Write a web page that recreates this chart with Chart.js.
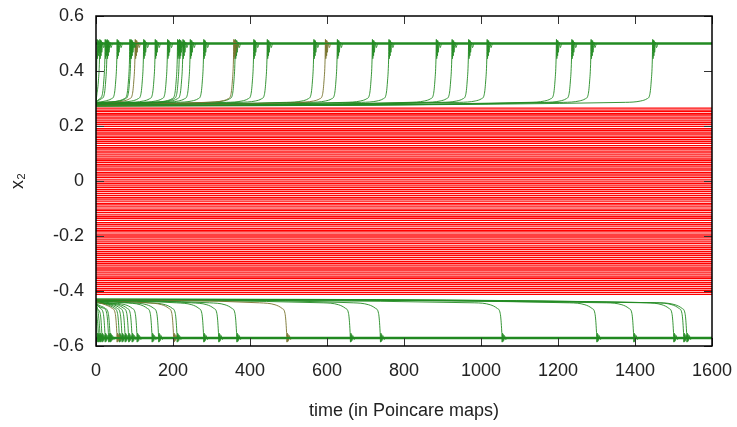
<!DOCTYPE html>
<html>
<head>
<meta charset="utf-8">
<script src="https://cdn.jsdelivr.net/npm/chart.js@4.4.1/dist/chart.umd.min.js"></script>
<style>
  body { margin: 0; background: #fff; }
  #wrap { width: 737px; height: 427px; position: relative; }
</style>
</head>
<body>
<div id="wrap"><canvas id="poincareChart"></canvas></div>
<script>
// red trajectories: constant levels of x2
const redLevels = [0.265, 0.258, 0.252, 0.245, 0.240, 0.232, 0.226, 0.219, 0.212, 0.206,
  0.199, 0.190, 0.184, 0.178, 0.171, 0.163, 0.158, 0.150, 0.143, 0.137, 0.129, 0.121,
  0.116, 0.109, 0.102, 0.095, 0.088, 0.080, 0.074, 0.068, 0.060, 0.054, 0.047, 0.040,
  0.031, 0.025, 0.019, 0.012, 0.004, -0.003, -0.010, -0.018, -0.024, -0.031, -0.038,
  -0.045, -0.052, -0.060, -0.066, -0.073, -0.081, -0.087, -0.094, -0.102, -0.108,
  -0.115, -0.123, -0.130, -0.136, -0.143, -0.151, -0.158, -0.164, -0.172, -0.179,
  -0.185, -0.193, -0.200, -0.207, -0.214, -0.221, -0.228, -0.236, -0.242, -0.249,
  -0.257, -0.263, -0.270, -0.278, -0.285, -0.292, -0.299, -0.306, -0.313, -0.320,
  -0.327, -0.334, -0.341, -0.349, -0.355, -0.362, -0.370, -0.377, -0.384, -0.391,
  -0.398, -0.405, -0.412];

// green trajectories: time at which each one escapes, and its starting x2
const upJumps = [2, 9, 23, 28, 54, 87, 90, 101, 123, 153, 185, 211, 216, 225, 244, 279,
  357, 361, 409, 444, 565, 595, 626, 717, 760, 883, 924, 967, 1015, 1195, 1235, 1285, 1445];
const upStarts = [0.290, 0.288, 0.286, 0.289, 0.284, 0.287, 0.283, 0.285, 0.282, 0.286,
  0.281, 0.284, 0.280, 0.283, 0.279, 0.282, 0.280, 0.278, 0.281, 0.277, 0.279, 0.276,
  0.278, 0.275, 0.277, 0.274, 0.276, 0.273, 0.275, 0.274, 0.272, 0.273, 0.274];
const downJumps = [2, 6, 10, 15, 23, 32, 36, 54, 60, 67, 75, 84, 93, 106, 145, 162, 201,
  210, 279, 318, 365, 495, 660, 738, 1054, 1300, 1396, 1500, 1526, 1534];
const downStarts = [-0.445, -0.443, -0.444, -0.441, -0.442, -0.440, -0.442, -0.439, -0.441,
  -0.438, -0.440, -0.437, -0.439, -0.436, -0.438, -0.435, -0.437, -0.434, -0.436, -0.433,
  -0.435, -0.432, -0.434, -0.431, -0.433, -0.430, -0.432, -0.431, -0.429, -0.430];

// shape of an escape (time offset from jump, x2)
const upOffsets = [-70, -30, -14, -7, -3, 0, 1, 2, 3, 4, 5, 6, 8, 11, 15];
const upValues = [0.286, 0.291, 0.299, 0.312, 0.360, 0.440, 0.515, 0.445, 0.512, 0.455,
  0.510, 0.468, 0.505, 0.485, 0.500];
const upEnd = 0.500;

const downOffsets = [-70, -30, -12, -4, 0, 1, 2, 3, 4, 5, 7, 10, 15];
const downValues = [-0.443, -0.450, -0.463, -0.482, -0.550, -0.586, -0.553, -0.584,
  -0.558, -0.580, -0.562, -0.576, -0.571];
const downEnd = -0.571;

const tMax = 1600;
const xTicks = [0, 200, 400, 600, 800, 1000, 1200, 1400, 1600];
const yTicks = [-0.6, -0.4, -0.2, 0, 0.2, 0.4, 0.6];

const olive = [7, 16, 21];
const green = 'rgba(34,139,34,0.9)';
const oliveColor = 'rgba(120,115,45,0.9)';

function escapeCurve(t, start, offsets, values, end) {
  const pts = [{ x: 0, y: start }];
  offsets.forEach((o, i) => {
    if (t + o > 0) pts.push({ x: t + o, y: values[i] });
  });
  pts.push({ x: tMax, y: end });
  return pts;
}

const datasets = [];
redLevels.forEach(v => {
  datasets.push({
    data: [{ x: 0, y: v }, { x: tMax, y: v }],
    borderColor: '#ff0000', borderWidth: 1.3, order: 3
  });
});
upJumps.forEach((t, i) => {
  datasets.push({
    data: escapeCurve(t, upStarts[i], upOffsets, upValues, upEnd),
    borderColor: olive.includes(i) ? oliveColor : green,
    borderWidth: 1, order: 1
  });
});
downJumps.forEach((t, i) => {
  datasets.push({
    data: escapeCurve(t, downStarts[i], downOffsets, downValues, downEnd),
    borderColor: olive.includes(i) ? oliveColor : green,
    borderWidth: 1, order: 1
  });
});
// the two attracting levels, where all escaped curves pile up
[upEnd, downEnd].forEach(v => {
  datasets.push({
    data: [{ x: 0, y: v }, { x: tMax, y: v }],
    borderColor: '#228b22', borderWidth: 2.5, order: 2
  });
});

// frame with inward ticks on all four sides
const frameTicks = {
  id: 'frameTicks',
  afterDatasetsDraw(chart) {
    const { ctx, chartArea: a, scales: { x, y } } = chart;
    ctx.save();
    ctx.strokeStyle = '#333';
    ctx.lineWidth = 1;
    ctx.beginPath();
    xTicks.forEach(v => {
      const px = Math.round(x.getPixelForValue(v)) + 0.5;
      ctx.moveTo(px, a.bottom); ctx.lineTo(px, a.bottom - 8);
      ctx.moveTo(px, a.top); ctx.lineTo(px, a.top + 8);
    });
    yTicks.forEach(v => {
      const py = Math.round(y.getPixelForValue(v)) + 0.5;
      ctx.moveTo(a.left, py); ctx.lineTo(a.left + 8, py);
      ctx.moveTo(a.right, py); ctx.lineTo(a.right - 8, py);
    });
    ctx.stroke();
    ctx.strokeStyle = '#000';
    ctx.lineWidth = 1.5;
    ctx.strokeRect(a.left, a.top, a.width, a.height);
    ctx.restore();
  }
};

const font = { family: '"Liberation Sans", Arial, sans-serif', size: 18 };

new Chart(document.getElementById('poincareChart'), {
  type: 'line',
  data: { datasets: datasets },
  options: {
    responsive: true,
    maintainAspectRatio: false,
    animation: false,
    layout: { padding: { top: 16, right: 25, left: 0, bottom: 0 } },
    elements: { point: { radius: 0 }, line: { cubicInterpolationMode: 'monotone' } },
    plugins: { legend: { display: false }, tooltip: { enabled: false } },
    scales: {
      x: {
        type: 'linear', min: 0, max: tMax,
        afterFit: s => { s.height = 81; s.paddingLeft = 0; s.paddingRight = 0; },
        afterBuildTicks: s => { s.ticks = xTicks.map(v => ({ value: v })); },
        grid: { display: false, drawTicks: false },
        border: { display: false },
        ticks: { font: font, color: '#222', padding: 14, maxRotation: 0,
                 callback: v => String(v) },
        title: { display: true, text: 'time (in Poincare maps)', font: font, color: '#222',
                 padding: { top: 0, bottom: 5 } }
      },
      y: {
        type: 'linear', min: -0.6, max: 0.6,
        afterFit: s => { s.width = 96; s.paddingTop = 0; s.paddingBottom = 0; },
        afterBuildTicks: s => { s.ticks = yTicks.map(v => ({ value: v })); },
        grid: { display: false, drawTicks: false },
        border: { display: false },
        ticks: {
          font: font, color: '#222', padding: 12,
          callback: v => (Math.abs(v) < 1e-9 ? '0' : v.toFixed(1))
        },
        title: { display: true, text: 'x₂', font: font, color: '#222',
                 padding: { top: 7, bottom: 0 } }
      }
    }
  },
  plugins: [frameTicks]
});
</script>
</body>
</html>
